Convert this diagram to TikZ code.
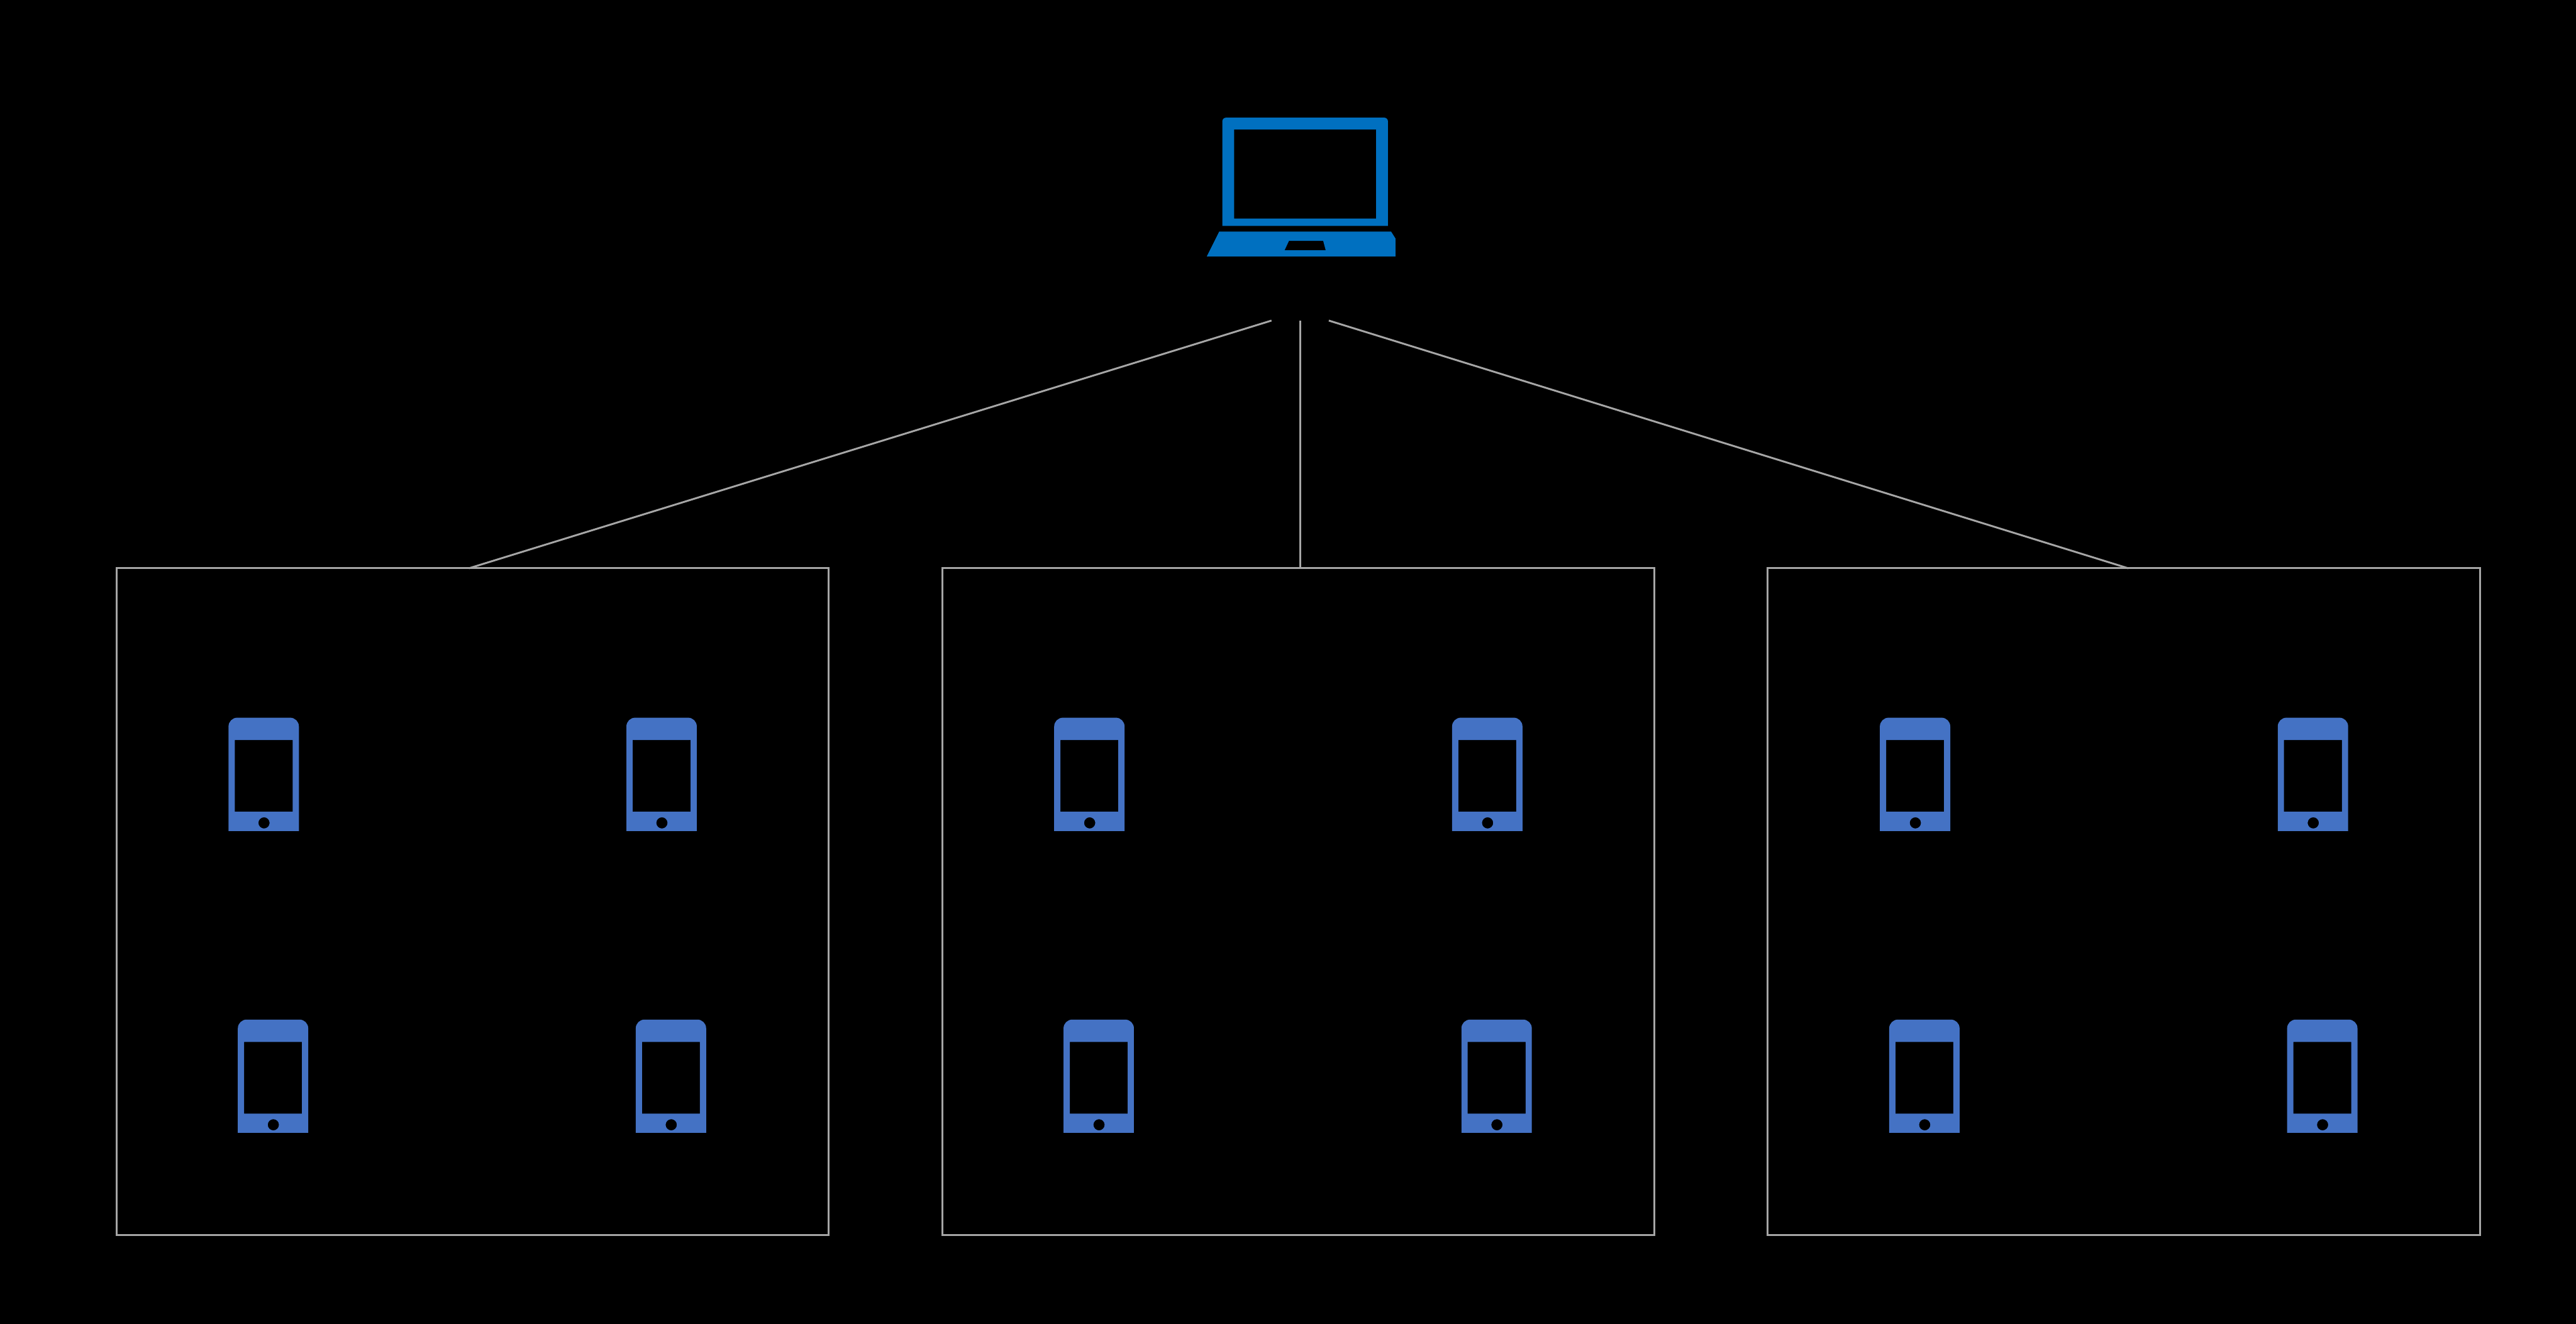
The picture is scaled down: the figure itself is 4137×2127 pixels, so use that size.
\documentclass[tikz,border=0pt]{standalone}
\definecolor{laptopblue}{HTML}{0070C0}
\definecolor{phoneblue}{HTML}{4472C4}
\definecolor{linegray}{HTML}{A6A6A6}
\tikzset{
  x=0.01cm, y=-0.01cm,
  groupbox/.style={draw=linegray, line width=0.03cm, rectangle, minimum width=11.43cm, minimum height=10.71cm, inner sep=0pt, outer sep=0pt, anchor=north west},
  link/.style={draw=linegray, line width=0.03cm},
  phone/.pic={
    \fill[phoneblue, even odd rule]
      (0,182) [rounded corners=0.14cm] -- (0,0) -- (113,0) [sharp corners] -- (113,182) -- cycle
      (10,36) rectangle (103,151)
      (57,169) circle[radius=0.09cm];
  },
}
\begin{document}
\begin{tikzpicture}
\useasboundingbox (0,0) rectangle (4137,2127);
\fill[black] (0,0) rectangle (4137,2127);

% laptop
\fill[laptopblue, even odd rule]
  (1963,363) [rounded corners=0.06cm] -- (1963,189) -- (2229,189) [sharp corners] -- (2229,363) -- cycle
  (1982,208) rectangle (2210,351);
\fill[laptopblue, even odd rule]
  (1938,412) -- (1958,372) -- (2234,372) -- (2241,383) -- (2241,412) -- cycle
  (2070,387) -- (2125,387) -- (2129,402) -- (2063,402) -- cycle;

% groups
\node[groupbox] (boxA) at (187,913) {};
\node[groupbox] (boxB) at (1513,913) {};
\node[groupbox] (boxC) at (2839,913) {};

% connector ends under the laptop
\coordinate (linkL) at (2042,515);
\coordinate (linkM) at (2088,515);
\coordinate (linkR) at (2134,515);
\coordinate (endL) at (753,913);
\coordinate (endM) at (2088,913);
\coordinate (endR) at (3418,913);
\draw[link] (linkL) -- (endL);
\draw[link] (linkM) -- (endM);
\draw[link] (linkR) -- (endR);

% phones
\foreach \bx in {0,1326,2652}{
  \pic at (367+\bx,1153) {phone};
  \pic at (1006+\bx,1153) {phone};
  \pic at (382+\bx,1638) {phone};
  \pic at (1021+\bx,1638) {phone};
}
\end{tikzpicture}
\end{document}
